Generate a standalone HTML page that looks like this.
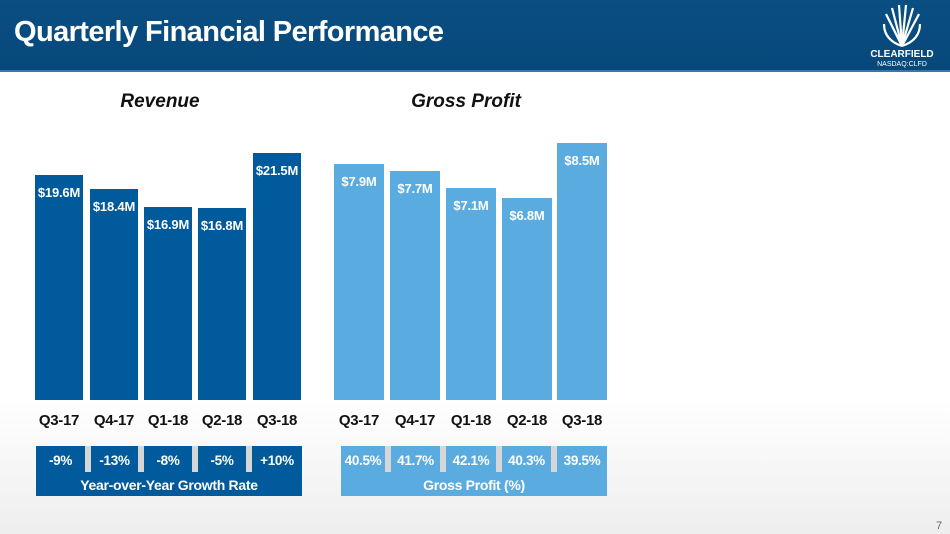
<!DOCTYPE html>
<html><head><meta charset="utf-8"><style>
*{margin:0;padding:0;box-sizing:border-box}
body{width:950px;height:534px;overflow:hidden;background:linear-gradient(#fff 0,#fff 400px,#eeeeee 534px);font-family:"Liberation Sans",sans-serif;position:relative}
.hdr{position:absolute;left:0;top:0;width:950px;height:72px;background:linear-gradient(#0b4e82,#06487a);border-bottom:2px solid #3a76a8}
.hdr h1{position:absolute;left:14px;top:16px;color:#fff;font-size:29px;font-weight:bold;letter-spacing:-0.6px}
.t{position:absolute;font-weight:bold;font-style:italic;font-size:19px;color:#111;text-align:center}
.b{position:absolute;bottom:134px;color:#fff;font-weight:bold;font-size:13px;letter-spacing:-0.2px;text-align:center;padding-top:10px;white-space:nowrap}
.d{background:#005a9b}.l{background:#5aace0}
.x{position:absolute;top:412px;font-weight:bold;font-size:15px;letter-spacing:-0.3px;color:#111;width:54px;text-align:center}
.box{position:absolute;top:446px;height:50px}
.cell{position:absolute;top:0;height:26px;color:#fff;font-size:13.5px;letter-spacing:-0.3px;font-weight:bold;text-align:center;line-height:30px}
.sep{position:absolute;top:0;width:6px;height:26px;background:#d6d6d6}
.cap{position:absolute;left:0;right:0;top:28px;text-align:center;color:#fff;font-size:14px;letter-spacing:-0.3px;font-weight:bold;line-height:22px}
</style></head><body>
<div class="hdr"><h1>Quarterly Financial Performance</h1>
<svg style="position:absolute;left:872px;top:4px" width="60" height="44" viewBox="0 0 60 44">
<g stroke="#fff" stroke-width="2.2" fill="none">
<path d="M30 42 L14 10"/><path d="M30 42 L20 4"/><path d="M30 42 L27 1"/><path d="M30 42 L34 1"/><path d="M30 42 L41 4"/><path d="M30 42 L47 10"/>
<path d="M30 42 Q12 36 12 20"/><path d="M30 42 Q48 36 48 20"/></g></svg>
<div style="position:absolute;left:862px;top:49px;color:#fff;font-size:10px;font-weight:bold;width:80px;text-align:center">CLEARFIELD</div>
<div style="position:absolute;left:862px;top:61px;color:#fff;font-size:7px;width:80px;text-align:center">NASDAQ:CLFD</div>
</div>
<div class="t" style="left:100px;top:91px;width:120px">Revenue</div>
<div class="t" style="left:396px;top:91px;width:140px">Gross Profit</div>

<div class="b d" style="left:35px;width:48px;top:175px">$19.6M</div>
<div class="b d" style="left:90px;width:48px;top:189px">$18.4M</div>
<div class="b d" style="left:144px;width:48px;top:207px">$16.9M</div>
<div class="b d" style="left:198px;width:48px;top:208px">$16.8M</div>
<div class="b d" style="left:253px;width:48px;top:153px">$21.5M</div>

<div class="b l" style="left:334px;width:50px;top:164px">$7.9M</div>
<div class="b l" style="left:390px;width:50px;top:171px">$7.7M</div>
<div class="b l" style="left:446px;width:50px;top:188px">$7.1M</div>
<div class="b l" style="left:502px;width:50px;top:198px">$6.8M</div>
<div class="b l" style="left:557px;width:50px;top:143px">$8.5M</div>

<div class="x" style="left:32px">Q3-17</div><div class="x" style="left:87px">Q4-17</div><div class="x" style="left:141px">Q1-18</div><div class="x" style="left:195px">Q2-18</div><div class="x" style="left:250px">Q3-18</div>
<div class="x" style="left:332px">Q3-17</div><div class="x" style="left:388px">Q4-17</div><div class="x" style="left:444px">Q1-18</div><div class="x" style="left:500px">Q2-18</div><div class="x" style="left:555px">Q3-18</div>

<div class="box d" style="left:36px;width:266px">
<div class="cell" style="left:0;width:49px">-9%</div><div class="sep" style="left:49px"></div>
<div class="cell" style="left:55px;width:47px">-13%</div><div class="sep" style="left:102px"></div>
<div class="cell" style="left:108px;width:48px">-8%</div><div class="sep" style="left:156px"></div>
<div class="cell" style="left:162px;width:48px">-5%</div><div class="sep" style="left:210px"></div>
<div class="cell" style="left:216px;width:50px">+10%</div>
<div class="cap">Year-over-Year Growth Rate</div></div>

<div class="box l" style="left:341px;width:266px">
<div class="cell" style="left:0;width:44px">40.5%</div><div class="sep" style="left:44px"></div>
<div class="cell" style="left:50px;width:49px">41.7%</div><div class="sep" style="left:99px"></div>
<div class="cell" style="left:105px;width:50px">42.1%</div><div class="sep" style="left:155px"></div>
<div class="cell" style="left:161px;width:49px">40.3%</div><div class="sep" style="left:210px"></div>
<div class="cell" style="left:216px;width:50px">39.5%</div>
<div class="cap">Gross Profit (%)</div></div>

<div style="position:absolute;left:936px;top:520px;font-size:11px;color:#666">7</div>
</body></html>
